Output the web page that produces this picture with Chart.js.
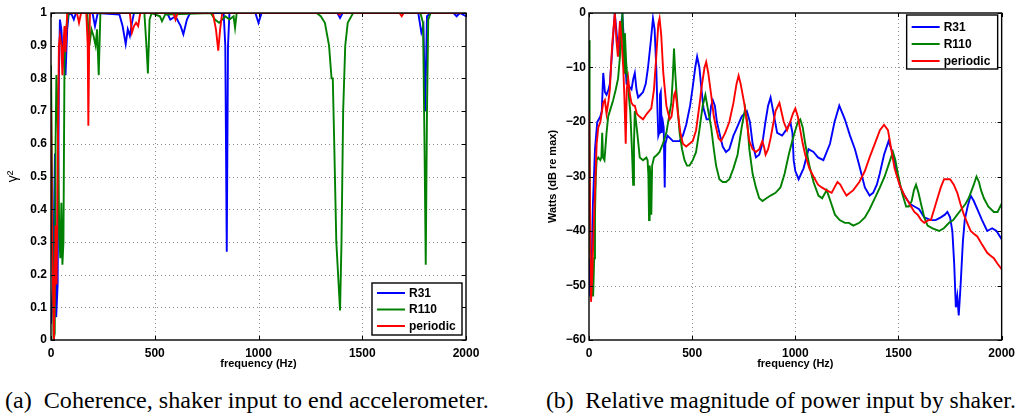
<!DOCTYPE html>
<html>
<head>
<meta charset="utf-8">
<script src="https://cdn.jsdelivr.net/npm/chart.js@4.4.0/dist/chart.umd.min.js"></script>
<style>
body { margin:0; background:#fff; width:1021px; height:417px; position:relative; overflow:hidden; }
.plot { position:absolute; top:0; height:375px; }
.caption { position:absolute; top:387px; line-height:26px; font-family:"Liberation Serif", "Times New Roman", serif; font-size:24.1px; white-space:pre; color:#000; }
</style>
</head>
<body>
<div class="plot" style="left:0;width:490px"><canvas id="graficoCoherencia"></canvas></div>
<div class="plot" style="left:520px;width:501px"><canvas id="graficoPotencia"></canvas></div>
<div class="caption" style="left:5px">(a)  Coherence, shaker input to end accelerometer.</div>
<div class="caption" style="left:546px;font-size:23.6px">(b)  Relative magnitude of power input by shaker.</div>
<script>
// series names and colours
const series = ['R31', 'R110', 'periodic'];
const colores = ['#0000ff', '#008000', '#ff0000'];
const xTicks = [0, 500, 1000, 1500, 2000];
const cohTicks = [0, 0.1, 0.2, 0.3, 0.4, 0.5, 0.6, 0.7, 0.8, 0.9, 1];
const dbTicks = [-60, -50, -40, -30, -20, -10, 0];

// coherence, [frequency Hz, gamma^2]
const cohR31 = [[0,0.05],[10,0.17],[19,0.57],[25,0.07],[32,0.17],[38,0.8],[43,0.98],[50,0.95],[56,0.88],[62,0.85],[70,0.81],[78,0.95],[86,1.0],[100,0.995],[110,0.98],[120,1.0],[200,1.0],[212,0.96],[225,1.0],[330,0.995],[345,0.96],[360,0.905],[370,0.95],[380,0.93],[390,0.97],[400,1.0],[560,1.0],[575,0.98],[600,0.99],[625,0.96],[638,0.935],[655,0.98],[670,1.0],[832,1.0],[840,0.9],[847,0.27],[853,0.9],[860,1.0],[985,1.0],[1000,0.97],[1015,1.0],[1380,1.0],[1393,0.985],[1405,1.0],[1770,1.0],[1785,0.94],[1795,0.96],[1803,0.7],[1812,0.99],[1830,1.0],[1940,1.0],[1955,0.99],[1970,1.0],[2000,0.99]];
const cohR110 = [[0,0.84],[5,0.5],[12,0],[18,0.02],[22,0.6],[26,0.81],[32,0.7],[40,0.32],[45,0.25],[50,0.42],[55,0.23],[60,0.3],[65,0.85],[72,0.95],[85,1.0],[175,1.0],[185,0.9],[195,0.95],[205,0.93],[215,0.9],[222,0.95],[230,0.81],[238,1.0],[450,1.0],[460,0.9],[467,0.815],[475,0.98],[485,1.0],[525,0.99],[535,0.975],[550,0.995],[770,1.0],[790,0.98],[810,0.97],[840,0.99],[860,0.98],[880,0.99],[887,0.955],[895,1.0],[1280,1.0],[1300,0.99],[1320,0.97],[1340,0.9],[1352,0.8],[1358,0.8],[1365,0.6],[1375,0.3],[1393,0.09],[1400,0.3],[1408,0.7],[1418,0.9],[1430,0.97],[1456,1.0],[1780,1.0],[1793,0.97],[1800,0.6],[1806,0.23],[1812,0.7],[1818,0.98],[1830,1.0],[2000,1.0]];
const cohPeriodic = [[0,0.71],[5,0.3],[10,0.17],[14,0.0],[18,0.17],[22,0.35],[27,0.17],[32,0.5],[38,0.9],[43,0.93],[50,0.9],[55,0.81],[60,0.9],[65,0.96],[70,0.88],[78,1.0],[125,1.0],[135,0.97],[145,1.0],[170,1.0],[177,0.9],[180,0.655],[184,0.9],[188,1.0],[380,1.0],[390,0.94],[400,0.96],[410,0.97],[420,0.96],[430,1.0],[590,1.0],[600,0.98],[610,1.0],[780,1.0],[795,0.95],[806,0.885],[815,0.95],[825,1.0],[1380,1.0],[1390,0.995],[1400,1.0],[1680,1.0],[1690,0.99],[1700,1.0],[2000,1.0]];

// power, [frequency Hz, dB re max]
const dbR31 = [[0,-45],[6,-52],[12,-48],[19,-35],[29,-25],[40,-20],[55,-19],[62,-18],[69,-11],[77,-14.5],[85,-15],[95,-14],[101,-13],[112,-7],[125,0],[137,-5],[145,-7],[155,-2],[162,-0.5],[172,-7],[182,-13],[195,-13.5],[206,-14],[215,-12],[222,-11],[230,-14],[238,-15.5],[250,-15],[262,-14.5],[275,-13],[286,-10],[300,-5],[310,-1],[318,-3],[326,-10],[332,-18],[336,-22.5],[340,-22],[344,-15],[348,-14.5],[352,-22],[358,-20],[362,-21],[367,-32],[370,-24],[380,-22.5],[407,-23.5],[439,-23.5],[455,-22.5],[471,-20.5],[490,-17],[503,-13.5],[515,-10],[524,-8],[535,-10],[545,-14],[555,-17.5],[570,-19.5],[584,-19.5],[592,-17],[600,-16],[610,-17],[620,-20],[632,-22],[648,-24.5],[664,-25.5],[680,-25],[700,-22.5],[712,-21.5],[740,-19],[765,-18],[780,-20],[793,-24],[809,-26.5],[825,-26],[840,-24],[855,-20],[868,-17],[880,-15.5],[895,-18.5],[912,-22],[936,-22.5],[955,-21.5],[976,-20],[986,-22],[992,-27],[1000,-29],[1016,-30.5],[1040,-28.5],[1064,-25],[1088,-25.5],[1110,-26.5],[1136,-27],[1168,-24],[1190,-20],[1213,-17],[1240,-19.5],[1265,-22.5],[1289,-25],[1310,-28],[1337,-32],[1360,-33.5],[1377,-33],[1395,-31.5],[1409,-29.5],[1430,-26],[1452,-23.5],[1470,-25.5],[1489,-29],[1510,-32],[1529,-33.5],[1555,-35],[1577,-35.5],[1600,-36],[1625,-37.5],[1657,-38],[1680,-38],[1705,-37.5],[1725,-37],[1737,-36.5],[1750,-37.5],[1761,-40],[1770,-46],[1778,-54],[1785,-52],[1792,-55.5],[1801,-50],[1812,-42],[1821,-38],[1835,-35.5],[1850,-33.5],[1865,-34.5],[1882,-36],[1905,-38],[1930,-40],[1954,-39.5],[1975,-40],[2000,-41.5]];
const dbR110 = [[0,-5],[3,-20],[6,-44],[12,-50],[20,-52],[25,-45],[29,-37],[33,-30],[37,-27],[45,-26.5],[55,-27],[60,-26.5],[64,-22],[68,-26.5],[75,-27],[85,-22],[93,-19],[105,-17.5],[117,-16],[130,-14],[141,-12],[150,-8],[158,-3],[162,0],[166,-6],[170,-11],[174,-3.7],[180,-9],[190,-14],[200,-18],[208,-25],[214,-31.5],[218,-24],[222,-18],[228,-20],[234,-22],[246,-26.5],[262,-27],[278,-26.5],[284,-27],[288,-30],[291,-38],[294,-28],[298,-30],[302,-37],[306,-28],[315,-26.5],[330,-26],[342,-25.5],[358,-24],[375,-22],[390,-18.5],[399,-16.5],[406,-12],[412,-6.5],[418,-11],[423,-14],[431,-18],[439,-22],[451,-25],[463,-27],[475,-28],[487,-28],[503,-27],[519,-25.5],[535,-21.5],[551,-17],[564,-15],[578,-18],[592,-21],[605,-25],[616,-28],[632,-30.5],[648,-31],[664,-31],[680,-30.5],[700,-28.5],[720,-26],[740,-21],[757,-17.5],[767,-20],[777,-25],[793,-29.5],[809,-32],[825,-34],[841,-34.5],[860,-34],[880,-33.5],[904,-33],[928,-32],[948,-29.5],[968,-26],[985,-23.5],[1000,-21.5],[1012,-20],[1024,-19.5],[1036,-21],[1048,-24],[1068,-28],[1088,-31],[1112,-33.5],[1130,-34],[1152,-32.5],[1170,-34.5],[1192,-37],[1215,-38],[1240,-38.5],[1260,-38.5],[1281,-39],[1310,-38.5],[1337,-37.5],[1360,-36],[1385,-34],[1410,-32],[1433,-30],[1455,-27.5],[1473,-25.5],[1485,-27],[1497,-29.5],[1517,-33],[1537,-35.5],[1550,-35.5],[1564,-34.5],[1575,-32.5],[1585,-31.5],[1597,-33],[1609,-35],[1625,-37.5],[1641,-39],[1665,-39.5],[1697,-40],[1720,-39.5],[1745,-38.5],[1765,-38],[1785,-37],[1805,-36],[1825,-35],[1840,-34],[1850,-33],[1865,-31.5],[1878,-30],[1890,-31],[1900,-32.5],[1914,-34],[1935,-35.5],[1962,-36.5],[1980,-36.5],[2000,-35]];
const dbPeriodic = [[0,-18],[5,-35],[10,-53],[16,-48],[22,-40],[29,-33],[37,-24],[45,-21],[55,-20],[69,-16.5],[77,-16],[85,-18.5],[95,-16],[101,-14],[112,-6],[125,0],[133,-5],[140,-8],[150,-1.5],[158,-5],[166,-10],[172,-16],[178,-24],[183,-14],[190,-12],[198,-15],[206,-16.5],[215,-17],[222,-17],[232,-18.5],[245,-19],[262,-19.5],[280,-18.5],[302,-17.5],[315,-14],[326,-8],[336,-2],[342,-1],[350,-4],[360,-11],[375,-17],[391,-19.5],[400,-19],[407,-17],[413,-15],[418,-14.5],[424,-16],[431,-18.5],[443,-22],[455,-24],[471,-24.5],[487,-24],[503,-23.5],[519,-21.5],[535,-17],[548,-13],[560,-10],[568,-9],[578,-11],[592,-15],[605,-19],[616,-21],[628,-23],[640,-23.5],[660,-22],[680,-20],[700,-16.5],[715,-13],[725,-11.5],[735,-13],[752,-16.5],[765,-20],[777,-23.5],[793,-25],[809,-25.5],[825,-25],[840,-23.5],[848,-24.5],[856,-26],[868,-25],[880,-23],[892,-20.5],[904,-18],[923,-16.5],[935,-18.5],[944,-20],[960,-21.5],[975,-20],[988,-18.5],[1000,-17.5],[1012,-19],[1024,-21.5],[1036,-24],[1048,-26],[1068,-28.5],[1088,-30],[1110,-31.5],[1128,-32],[1150,-32.5],[1176,-33],[1190,-32],[1204,-31],[1218,-31.5],[1232,-32.5],[1248,-33.5],[1265,-33],[1281,-32.5],[1310,-31],[1337,-29],[1360,-26.5],[1385,-24],[1410,-21.5],[1430,-20.5],[1449,-21.5],[1465,-25],[1481,-28.5],[1505,-31.5],[1529,-33.5],[1545,-34.5],[1561,-35.5],[1577,-36.5],[1593,-37],[1610,-38],[1625,-38.5],[1645,-38],[1657,-38],[1673,-36],[1689,-34],[1705,-32],[1721,-30.5],[1735,-30.5],[1750,-30.5],[1768,-31.5],[1785,-33],[1800,-35],[1817,-37],[1833,-38.5],[1850,-40],[1865,-40.5],[1882,-41],[1905,-42.5],[1930,-44],[1945,-44.5],[1962,-45],[1980,-46],[2000,-47]];

const fuenteEje = { family: '"Liberation Sans", Arial, sans-serif', size: 12, weight: 'bold' };

//grilla punteada, caja, marcas hacia adentro y leyenda tipo matlab
const cajaMatlab = {
    id: 'cajaMatlab',
    beforeDatasetsDraw(chart) {
        const ctx = chart.ctx;
        const a = chart.chartArea;
        const sx = chart.scales.x, sy = chart.scales.y;
        ctx.save();
        ctx.fillStyle = '#8c8c8c';
        sx.ticks.forEach(t => {
            const px = Math.round(sx.getPixelForValue(t.value));
            if (px <= a.left + 1 || px >= a.right - 1) return;
            for (let yy = a.top + 2; yy < a.bottom; yy += 4) ctx.fillRect(px, yy, 1, 1);
        });
        sy.ticks.forEach(t => {
            const py = Math.round(sy.getPixelForValue(t.value));
            if (py <= a.top + 1 || py >= a.bottom - 1) return;
            for (let xx = a.left + 2; xx < a.right; xx += 4) ctx.fillRect(xx, py, 1, 1);
        });
        ctx.restore();
    },
    afterDatasetsDraw(chart, args, opts) {
        const ctx = chart.ctx;
        const a = chart.chartArea;
        const sx = chart.scales.x, sy = chart.scales.y;
        ctx.save();
        ctx.strokeStyle = '#000';
        ctx.lineWidth = 1;
        ctx.beginPath();
        sx.ticks.forEach(t => {
            const px = Math.round(sx.getPixelForValue(t.value)) + 0.5;
            ctx.moveTo(px, a.bottom); ctx.lineTo(px, a.bottom - 4);
            ctx.moveTo(px, a.top); ctx.lineTo(px, a.top + 4);
        });
        sy.ticks.forEach(t => {
            const py = Math.round(sy.getPixelForValue(t.value)) + 0.5;
            ctx.moveTo(a.left, py); ctx.lineTo(a.left + 4, py);
            ctx.moveTo(a.right, py); ctx.lineTo(a.right - 4, py);
        });
        ctx.stroke();
        ctx.lineWidth = 1.4;
        ctx.strokeRect(a.left, a.top, a.right - a.left, a.bottom - a.top);

        // leyenda
        const w = opts.w, h = opts.h;
        const lx = a.right - opts.right - w;
        const ly = opts.bottom != null ? a.bottom - opts.bottom - h : a.top + opts.top;
        ctx.fillStyle = '#fff';
        ctx.fillRect(lx, ly, w, h);
        ctx.lineWidth = 1.4;
        ctx.strokeRect(lx, ly, w, h);
        ctx.font = 'bold 12px "Liberation Sans", Arial, sans-serif';
        ctx.textBaseline = 'middle';
        ctx.textAlign = 'left';
        series.forEach((s, i) => {
            const yy = ly + opts.row0 + i * opts.rowStep;
            ctx.strokeStyle = colores[i];
            ctx.lineWidth = 2;
            ctx.beginPath();
            ctx.moveTo(lx + 5, yy); ctx.lineTo(lx + 33, yy);
            ctx.stroke();
            ctx.fillStyle = '#000';
            ctx.fillText(s, lx + 37, yy + 0.5);
        });
        ctx.restore();
    }
};

function armarDatasets(listas) {
    return listas.map((lista, i) => ({
        label: series[i],
        data: lista.map(p => ({ x: p[0], y: p[1] })),
        borderColor: colores[i],
        borderWidth: 1.9,
        pointRadius: 0,
        tension: 0,
        fill: false,
        order: 3 - i
    }));
}

function opcionesEjes(yMin, yMax, yTicks, yTitulo, yTituloFuente, yAncho, yPad, tituloPad, formato) {
    return {
        x: {
            type: 'linear', min: 0, max: 2000,
            afterBuildTicks: s => { s.ticks = xTicks.map(v => ({ value: v })); },
            afterFit: s => { s.height = 35; },
            grid: { display: false, drawTicks: false },
            border: { display: false },
            ticks: { font: fuenteEje, color: '#000', padding: 6, maxRotation: 0, callback: v => String(v) },
            title: { display: true, text: 'frequency (Hz)', color: '#000',
                font: { family: '"Liberation Sans", Arial, sans-serif', size: 11, weight: 'bold' },
                padding: { top: 0, bottom: 4 } }
        },
        y: {
            type: 'linear', min: yMin, max: yMax,
            afterBuildTicks: s => { s.ticks = yTicks.map(v => ({ value: v })); },
            afterFit: s => { s.width = yAncho; },
            grid: { display: false, drawTicks: false },
            border: { display: false },
            ticks: { font: fuenteEje, color: '#000', padding: yPad, callback: formato },
            title: { display: true, text: yTitulo, color: '#000', font: yTituloFuente,
                padding: { top: tituloPad, bottom: 0 } }
        }
    };
}

//coherencia
new Chart(document.getElementById('graficoCoherencia'), {
    type: 'line',
    data: { datasets: armarDatasets([cohR31, cohR110, cohPeriodic]) },
    options: {
        responsive: true,
        maintainAspectRatio: false,
        animation: false,
        layout: { padding: { left: 0, top: 13, right: 24, bottom: 0 } },
        scales: opcionesEjes(0, 1, cohTicks, 'γ²',
            { family: '"Liberation Sans", Arial, sans-serif', size: 14, weight: 'normal' },
            51, 4, 5, v => String(v)),
        plugins: {
            legend: { display: false },
            tooltip: { enabled: false },
            cajaMatlab: { w: 90, h: 52, right: 4, bottom: 5, row0: 10, rowStep: 16.5 }
        }
    },
    plugins: [cajaMatlab]
});

//potencia relativa
new Chart(document.getElementById('graficoPotencia'), {
    type: 'line',
    data: { datasets: armarDatasets([dbR31, dbR110, dbPeriodic]) },
    options: {
        responsive: true,
        maintainAspectRatio: false,
        animation: false,
        layout: { padding: { left: 0, top: 13, right: 17, bottom: 0 } },
        scales: opcionesEjes(-60, 0, dbTicks, 'Watts (dB re max)',
            { family: '"Liberation Sans", Arial, sans-serif', size: 11, weight: 'bold' },
            69, 3, 26, v => String(v).replace('-', '\u2212')),
        plugins: {
            legend: { display: false },
            tooltip: { enabled: false },
            cajaMatlab: { w: 91, h: 54, right: 4, top: 2, row0: 12, rowStep: 17 }
        }
    },
    plugins: [cajaMatlab]
});
</script>
</body>
</html>
